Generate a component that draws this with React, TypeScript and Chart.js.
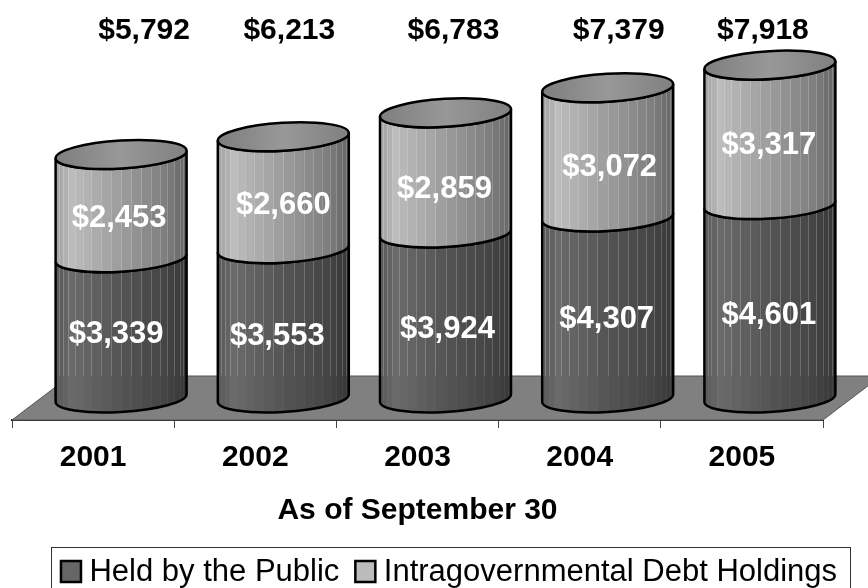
import React, { useEffect, useRef } from "react";
import { Chart, registerables } from "chart.js";

Chart.register(...registerables);

const years = ["2001", "2002", "2003", "2004", "2005"];
const heldByPublic = [3339, 3553, 3924, 4307, 4601];
const intragovernmental = [2453, 2660, 2859, 3072, 3317];
const totals = [5792, 6213, 6783, 7379, 7918];

const FONT = "'Liberation Sans', Arial, sans-serif";
const DEPTH_X = 58;
const DEPTH_Y = 44;
const PHI = -0.06;
const RY = 14;

// Hand placement of the annotations relative to the cylinder axis / segment middle
const totalShift = [23, 6, 8, 11, -7];
const lowShift: [number, number][] = [[-5, 7], [-6, 13], [2, 14], [-1, 12], [-1, 14]];
const highShift: [number, number][] = [[-2, 12], [0, 13], [-1, 17], [2, 15], [-1, 11]];

const upperStops: [number, number][] = [[0, 160], [0.12, 188], [0.5, 156], [0.85, 125], [1, 100]];
const lowerStops: [number, number][] = [[0, 88], [0.12, 106], [0.5, 84], [0.85, 68], [1, 54]];

const shade = (stops: [number, number][], u: number) => {
  for (let i = 1; i < stops.length; i++) {
    if (u <= stops[i][0]) {
      const [a, va] = stops[i - 1];
      const [b, vb] = stops[i];
      const v = Math.round(va + ((vb - va) * (u - a)) / (b - a));
      return `rgb(${v},${v},${v})`;
    }
  }
  return "#000";
};

const money = (v: number) => "$" + v.toLocaleString("en-US");

function segment(ctx: CanvasRenderingContext2D, cx: number, rx: number, yTop: number, yBottom: number, stops: [number, number][], backY: number) {
  const t0 = Math.atan(-(RY / rx) * Math.tan(PHI));
  const path = () => {
    ctx.beginPath();
    ctx.ellipse(cx, yTop, rx, RY, PHI, t0 + Math.PI, t0, true);
    ctx.ellipse(cx, yBottom, rx, RY, PHI, t0, t0 + Math.PI, false);
    ctx.closePath();
  };
  ctx.save();
  path();
  ctx.clip();
  const n = 20;
  const pos = (i: number) => cx - rx * Math.cos((Math.PI * i) / n);
  for (let i = 0; i < n; i++) {
    const a = pos(i);
    const b = pos(i + 1);
    ctx.fillStyle = shade(stops, ((a + b) / 2 - (cx - rx)) / (2 * rx));
    ctx.fillRect(a, yTop - 30, b - a + 0.6, yBottom - yTop + 60);
  }
  ctx.lineWidth = 1;
  for (let i = 1; i < n; i++) {
    const x = Math.round(pos(i)) + 0.5;
    ctx.strokeStyle = "rgba(255,255,255,0.2)";
    ctx.beginPath();
    ctx.moveTo(x, yTop - 30);
    ctx.lineTo(x, Math.min(backY, yBottom + 30));
    ctx.stroke();
    if (yBottom + 30 > backY) {
      ctx.strokeStyle = "rgba(128,128,128,0.15)";
      ctx.beginPath();
      ctx.moveTo(x, backY);
      ctx.lineTo(x, yBottom + 30);
      ctx.stroke();
    }
  }
  ctx.restore();
  ctx.strokeStyle = "#000";
  ctx.lineWidth = 2.5;
  path();
  ctx.stroke();
}

const cylinders = {
  id: "cylinders",
  beforeDatasetDraw() {
    return false;
  },
  beforeDatasetsDraw(chart: any) {
    const { ctx, chartArea } = chart;
    const bottom = chartArea.bottom;
    const { left, right } = chartArea;
    ctx.save();
    ctx.beginPath();
    ctx.moveTo(left, bottom);
    ctx.lineTo(right, bottom);
    ctx.lineTo(right + DEPTH_X, bottom - DEPTH_Y);
    ctx.lineTo(left + DEPTH_X, bottom - DEPTH_Y);
    ctx.closePath();
    ctx.fillStyle = "#808080";
    ctx.fill();
    ctx.strokeStyle = "#555";
    ctx.lineWidth = 1;
    ctx.stroke();
    ctx.restore();
  },
  afterDatasetsDraw(chart: any) {
    const { ctx, chartArea } = chart;
    const backY = chartArea.bottom - DEPTH_Y;
    const lower = chart.getDatasetMeta(0).data;
    const upper = chart.getDatasetMeta(1).data;
    const dx = 28;
    const dy = DEPTH_Y / 2;
    ctx.save();
    lower.forEach((bar: any, i: number) => {
      const cx = bar.x + dx;
      const rx = bar.width / 2;
      const y0 = bar.base - dy;
      const y1 = bar.y - dy;
      const y2 = upper[i].y - dy;
      segment(ctx, cx, rx, y1, y0, lowerStops, backY);
      segment(ctx, cx, rx, y2, y1, upperStops, backY);
      const grad = ctx.createLinearGradient(cx - rx, 0, cx + rx, 0);
      grad.addColorStop(0, "#7e7e7e");
      grad.addColorStop(0.5, "#989898");
      grad.addColorStop(1, "#808080");
      ctx.beginPath();
      ctx.ellipse(cx, y2, rx, RY, PHI, 0, Math.PI * 2);
      ctx.fillStyle = grad;
      ctx.fill();
      ctx.strokeStyle = "#000";
      ctx.lineWidth = 2.5;
      ctx.stroke();

      ctx.textAlign = "center";
      ctx.textBaseline = "middle";
      ctx.font = `bold 31px ${FONT}`;
      ctx.fillStyle = "#fff";
      ctx.fillText(money(heldByPublic[i]), cx + lowShift[i][0], (y0 + y1) / 2 + lowShift[i][1]);
      ctx.fillText(money(intragovernmental[i]), cx + highShift[i][0], (y1 + y2) / 2 + highShift[i][1]);
      ctx.font = `bold 30px ${FONT}`;
      ctx.fillStyle = "#000";
      ctx.fillText(money(totals[i]), cx + totalShift[i], 31);
    });
    ctx.restore();
  },
  afterLayout(chart: any) {
    const legend = chart.legend;
    legend.left += 30;
    legend.right += 30;
    legend.adjustHitBoxes();
  },
  afterDraw(chart: any) {
    const { ctx, legend } = chart;
    ctx.save();
    ctx.strokeStyle = "#333";
    ctx.lineWidth = 1;
    ctx.strokeRect(51.5, 547.5, 799, 60);
    legend.legendHitBoxes.forEach((box: any, i: number) => {
      ctx.fillStyle = i === 0 ? "#666666" : "#BBBBBB";
      ctx.strokeStyle = "#000";
      ctx.lineWidth = 2.5;
      ctx.fillRect(box.left + 3, 561, 20, 21);
      ctx.strokeRect(box.left + 3, 561, 20, 21);
    });
    ctx.restore();
  },
};

export default function App() {
  const ref = useRef<HTMLCanvasElement>(null);
  useEffect(() => {
    document.body.style.margin = "0";
    const chart = new Chart(ref.current!, {
      type: "bar",
      data: {
        labels: years,
        datasets: [
          { label: "Held by the Public", data: heldByPublic, backgroundColor: "#666666" },
          { label: "Intragovernmental Debt Holdings", data: intragovernmental, backgroundColor: "#BBBBBB" },
        ],
      },
      plugins: [cylinders],
      options: {
        animation: false,
        responsive: false,
        devicePixelRatio: 1,
        layout: { padding: { left: 12, right: 45, top: 8, bottom: -10 } },
        scales: {
          x: {
            stacked: true,
            offset: true,
            grid: { display: true, offset: true, drawOnChartArea: false, tickLength: 8, color: "#444", lineWidth: 1 },
            border: { display: true, color: "#222", width: 2 },
            ticks: { color: "#000", font: { family: FONT, size: 30, weight: "bold" }, padding: 12, maxRotation: 0 },
            title: { display: true, text: "As of September 30", color: "#000", font: { family: FONT, size: 30, weight: "bold" }, padding: { top: 5, bottom: 15 } },
          },
          y: { stacked: true, display: false, min: 0, max: 9800 },
        },
        datasets: { bar: { categoryPercentage: 1, barPercentage: 0.809 } },
        plugins: {
          tooltip: { enabled: false },
          legend: {
            position: "bottom",
            labels: {
              color: "#000",
              font: { family: FONT, size: 31 },
              boxWidth: 16,
              boxHeight: 16,
              padding: 13,
              generateLabels: (c: any) =>
                c.data.datasets.map((d: any, i: number) => ({ text: d.label, fillStyle: "rgba(0,0,0,0)", strokeStyle: "rgba(0,0,0,0)", lineWidth: 0, datasetIndex: i, fontColor: "#000" })),
            },
          },
        },
      },
    });
    return () => chart.destroy();
  }, []);
  return <canvas ref={ref} width={868} height={588} style={{ display: "block" }} />;
}
